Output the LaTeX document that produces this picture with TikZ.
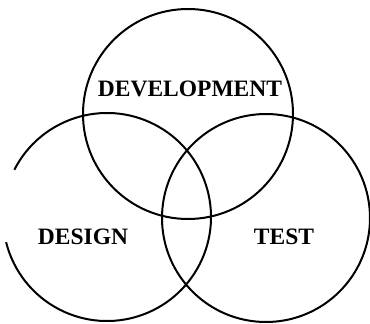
\documentclass[tikz,border=0pt]{standalone}
\usepackage{fontspec}
\setmainfont{Liberation Serif}
\usetikzlibrary{calc}
\begin{document}
\begin{tikzpicture}[x=1pt,y=-1pt,
  ring/.style={draw=black,line width=2pt},
  lbl/.style={font=\fontsize{23.5}{26}\selectfont\bfseries,inner sep=0pt}]
\useasboundingbox (0,0) rectangle (370,324);
\coordinate (ct) at (188,114);
\coordinate (cl) at (107,217);
\coordinate (cr) at (266,218);
\draw[ring] (ct) circle[radius=105];
\draw[ring] (cr) circle[radius=104];
\draw[ring] ($(cl)+(207:104)$) arc[start angle=207,end angle=526,radius=104];
\node[lbl] (dev) at (190,89) {DEVELOPMENT};
\node[lbl] (des) at (83,237) {DESIGN};
\node[lbl] (tst) at (284,237) {TEST};
\end{tikzpicture}
\end{document}
